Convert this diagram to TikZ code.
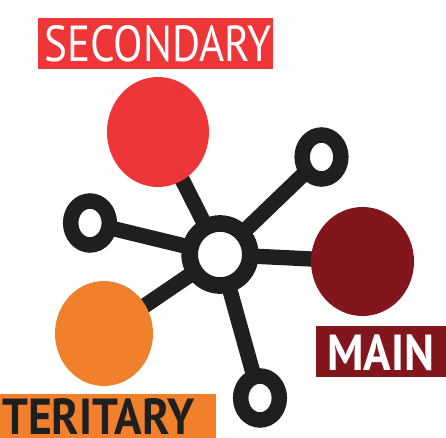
\documentclass[tikz,border=0pt]{standalone}
\usepackage{fontspec}
\usetikzlibrary{shapes.geometric,backgrounds}
\newfontfamily\tagfont[FakeStretch=0.85]{PT Sans}
\newfontfamily\boldtagfont[FakeStretch=0.9]{PT Sans Bold}
\definecolor{ink}{HTML}{1F1F1F}
\definecolor{secred}{HTML}{EE3537}
\definecolor{mainred}{HTML}{83161C}
\definecolor{terorange}{HTML}{F0802C}

\begin{document}
\begin{tikzpicture}[x=0.75pt, y=-0.75pt,
    blob/.style={ellipse, inner sep=0pt},
    ring/.style={ellipse, draw=ink, fill=white, line width=11.6pt,
      minimum width=29pt, minimum height=33pt, inner sep=0pt},
    spoke/.style={draw=ink, line width=11.5pt},
    tag/.style={font=\tagfont\fontsize{38}{38}\selectfont, inner sep=0pt, anchor=base},
    boldtag/.style={tag, font=\boldtagfont\fontsize{38}{38}\selectfont}]
    \useasboundingbox (0,0) rectangle (446,438);

    % hub and the three coloured circles
    \node[ellipse, draw=ink, fill=white, line width=12.5pt,
      minimum width=45.5pt, minimum height=46.5pt, inner sep=0pt] (hub) at (220,254.5) {};
    \node[blob, fill=secred, minimum width=76.5pt, minimum height=82.5pt] (secondary) at (158,132) {};
    \node[blob, fill=mainred, minimum width=77.25pt, minimum height=81.75pt] (main) at (362.5,261.5) {};
    \node[blob, fill=terorange, minimum width=73.5pt, minimum height=78.75pt] (teritary) at (104,333.5) {};

    % small open rings
    \node[ring] (ringa) at (321.5,157) {};
    \node[ring] (ringb) at (90,223) {};
    \node[ring] (ringc) at (260,398) {};

    % spokes go under everything
    \begin{pgfonlayer}{background}
      \foreach \n in {secondary,main,teritary,ringa,ringb,ringc}
        \draw[spoke] (hub.center) -- (\n.center);
    \end{pgfonlayer}

    % labels
    \fill[secred] (38,18) rectangle (273,69);
    \node[tag, white] (secondarytag) at (158,62) {SECONDARY};
    \fill[mainred] (316,326) rectangle (446,377);
    \node[boldtag, white] (maintag) at (381,370) {MAIN};
    \fill[terorange] (0,394) rectangle (216,438);
    \node[boldtag, ink, anchor=base west] (teritarytag) at (2,434) {TERITARY};
\end{tikzpicture}
\end{document}
